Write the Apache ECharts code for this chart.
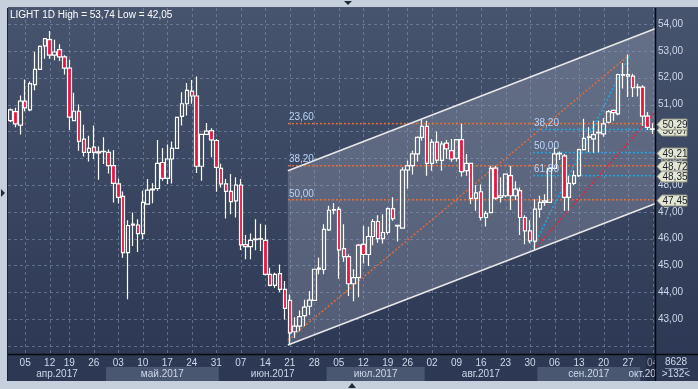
<!DOCTYPE html>
<html><head><meta charset="utf-8">
<script src="https://cdn.jsdelivr.net/npm/echarts@6/dist/echarts.min.js"></script>
<style>html,body{margin:0;padding:0;background:#c6d0dc}#c{width:698px;height:389px}</style>
</head><body><div id="c"></div>
<script>
const dates = ['03-31',
'04-03','04-04','04-05','04-06','04-07','04-10','04-11','04-12','04-13','04-17','04-18','04-19','04-20','04-21','04-24','04-25','04-26','04-27','04-28',
'05-01','05-02','05-03','05-04','05-05','05-08','05-09','05-10','05-11','05-12','05-15','05-16','05-17','05-18','05-19','05-22','05-23','05-24','05-25','05-26','05-29','05-30','05-31',
'06-01','06-02','06-05','06-06','06-07','06-08','06-09','06-12','06-13','06-14','06-15','06-16','06-19','06-20','06-21','06-22','06-23','06-26','06-27','06-28','06-29','06-30',
'07-03','07-04','07-05','07-06','07-07','07-10','07-11','07-12','07-13','07-14','07-17','07-18','07-19','07-20','07-24','07-25','07-26','07-27','07-28','07-31',
'08-01','08-02','08-03','08-04','08-07','08-08','08-09','08-10','08-11','08-14','08-15','08-16','08-17','08-18','08-21','08-22','08-23','08-24','08-25','08-28','08-29','08-30','08-31',
'09-01','09-04','09-05','09-06','09-07','09-08','09-11','09-12','09-13','09-14','09-15','09-18','09-19','09-20','09-21','09-22','09-25','09-26','09-27','09-28','09-29',
'10-02','10-03','10-04'];
const opens = [50.40,50.74,50.23,51.13,50.80,51.74,52.31,53.19,53.42,52.84,53.05,52.78,52.36,50.40,50.75,49.71,49.22,49.41,49.20,49.24,
49.22,48.72,48.04,47.58,45.48,46.50,46.51,46.19,47.29,47.82,47.87,48.84,48.25,48.97,49.37,50.56,51.03,51.50,51.32,48.70,
49.89,50.03,49.66,48.62,48.04,47.76,47.41,48.00,45.78,45.70,45.96,45.98,45.94,44.67,44.26,44.70,44.11,43.70,42.53,42.74,
43.13,43.48,43.70,44.86,44.85,46.33,47.06,47.09,45.63,45.33,44.32,44.55,45.79,45.41,46.08,46.64,46.00,46.23,47.12,46.50,
46.39,48.56,48.72,49.16,49.78,50.19,48.81,49.60,48.92,49.56,49.28,48.99,49.69,48.54,48.81,47.50,47.75,46.79,46.97,48.63,
47.54,47.60,48.35,47.60,47.79,46.79,46.29,45.91,47.10,47.35,47.35,48.62,49.16,49.09,47.54,48.06,48.35,49.32,49.78,49.72,
49.94,49.91,50.34,50.78,50.65,52.10,52.06,52.06,51.63,51.65,50.57,50.09];
const closes = [50.80,50.28,51.13,50.88,51.78,52.31,53.17,53.46,52.84,52.96,52.78,52.36,50.53,50.75,49.63,49.22,49.37,49.22,49.24,49.26,
48.72,48.06,47.54,45.48,46.49,46.54,46.19,47.35,47.81,47.85,48.81,48.25,48.97,49.37,50.52,51.03,51.53,51.32,48.70,49.89,
50.01,49.68,48.66,48.04,47.76,47.38,48.00,45.77,45.70,45.94,45.98,45.99,44.67,44.26,44.67,44.11,43.40,42.49,42.74,43.09,
43.45,43.71,44.86,44.90,46.35,47.06,47.08,45.58,45.33,44.32,44.55,45.76,45.41,46.08,46.64,46.00,46.23,47.12,46.75,46.48,
48.56,48.72,49.16,49.78,50.19,48.81,49.60,48.93,49.53,49.35,48.97,49.69,48.50,48.81,47.50,47.71,46.79,46.94,48.62,47.51,
47.60,48.41,47.60,47.85,46.79,46.29,45.92,47.10,47.35,47.41,48.62,49.16,49.18,47.54,48.06,48.35,49.32,49.74,49.80,49.88,
49.96,50.28,50.74,50.70,52.12,52.12,52.12,51.63,51.65,50.57,50.15,50.07];
const lows = [50.35,50.15,49.88,50.75,50.75,51.53,52.31,52.71,52.71,52.65,52.62,52.12,50.05,50.40,49.28,49.06,48.88,48.97,48.20,48.78,
48.43,47.35,47.31,45.29,43.74,45.73,45.50,45.98,47.29,47.32,47.79,48.16,48.04,48.06,49.37,50.22,50.59,51.03,48.45,48.16,
49.87,49.04,47.75,47.91,46.75,46.91,46.79,45.58,45.23,45.23,45.57,45.54,44.63,44.23,44.17,44.01,42.99,42.05,42.30,42.55,
42.74,43.15,43.70,44.67,44.67,46.29,46.91,44.51,45.14,43.86,43.67,43.82,45.07,44.98,45.75,45.85,45.82,46.16,46.67,45.89,
46.39,47.87,48.39,48.88,49.66,48.35,48.53,48.81,48.53,48.97,48.87,48.88,48.32,48.35,47.29,47.04,46.69,46.45,46.95,47.45,
47.35,47.54,47.07,47.44,46.14,45.79,45.83,45.60,46.79,47.23,47.33,48.60,48.93,47.04,47.04,48.00,48.30,49.30,49.22,49.20,
49.22,49.80,50.30,50.40,50.60,51.60,51.28,51.28,51.30,50.20,50.05,49.90];
const highs = [50.85,50.88,51.34,51.93,51.86,52.97,53.20,53.46,53.74,53.42,53.25,52.84,52.67,51.44,51.00,50.25,49.84,50.22,49.44,49.78,
49.32,49.31,48.23,47.76,46.69,46.98,46.72,47.79,48.22,48.07,49.68,49.38,49.51,49.62,50.55,51.46,51.80,51.92,52.05,49.89,
50.31,50.12,49.72,48.79,48.22,48.41,48.29,48.22,46.14,46.19,46.72,46.56,46.51,44.92,44.73,45.04,44.42,43.92,43.07,43.32,
43.72,44.05,44.86,45.29,46.54,47.23,47.33,47.19,46.54,45.42,44.86,45.80,46.48,46.44,46.73,46.87,46.91,47.16,47.54,46.52,
48.66,48.91,49.28,49.81,50.43,50.40,49.72,50.00,49.63,49.68,49.72,49.72,50.28,49.16,48.81,48.00,48.02,47.04,48.72,48.72,
48.29,48.41,48.72,48.14,47.91,46.87,46.69,47.47,47.60,47.66,48.66,49.41,49.25,49.16,48.35,48.54,49.35,50.47,50.15,50.40,
50.40,50.50,50.80,50.82,52.15,52.55,52.87,52.15,51.78,51.72,50.72,50.30];

const tickDates = ['04-05','04-12','04-19','04-26','05-03','05-10','05-17','05-24','05-31','06-07','06-14','06-21','06-28',
'07-05','07-12','07-19','07-26','08-02','08-09','08-16','08-23','08-30','09-06','09-13','09-20','09-27','10-04'];
const monthKeys = ['04','05','06','07','08','09','10'];
const monthNames = ['апр.2017','май.2017','июн.2017','июл.2017','авг.2017','сен.2017','окт.2017'];
const priceTicks = [42,43,44,45,46,47,48,49,50,51,52,53,54];

const fibOrangeLevels = [50.29, 48.72, 47.45];
const fibOrangeNames = ['23,60','38,20','50,00'];
const fibBlueLevels = [50.07, 49.21, 48.35];
const fibBlueNames = ['38,20','50,00','61,80'];
const tagPrices = [50.07, 50.29, 49.21, 48.72, 48.35, 47.45];
const fibOrangeStart = 56.6, fibBlueStart = 106.6, lineEnd = 131.5;
const channelX = [56.6, 131.5];
const channelUpper = [48.53, 53.83];
const channelLower = [42.04, 47.30];
const orangeDiag = [[56.6, 42.22], [126.4, 52.87]];
const blueDiag = [[106.6, 45.68], [126.4, 52.87]];
const redDiag = [[107.3, 45.70], [131.5, 50.72]];
const titleText = 'LIGHT 1D High = 53,74 Low = 42,05';
const footer = ['8628', '>132<'];

const FONT = 'Liberation Sans';
const LBL = '#cdd7ea';
const GRIDC = 'rgba(140,158,190,0.5)';
const fmt = v => v.toFixed(2).replace('.', ',');

const chart = echarts.init(document.getElementById('c'));

function dotted(data, color, z, w, dash) {
  return { type: 'line', xAxisIndex: 1, yAxisIndex: 0, data: data, symbol: 'none', silent: true, z: z,
    lineStyle: { color: color, width: w || 1.5, type: dash || [2, 2] }, animation: false };
}

const series = [];
series.push({ type: 'custom', xAxisIndex: 1, yAxisIndex: 0, z: 1, silent: true,
  data: [[channelX[0], channelUpper[0]]],
  renderItem: (p, api) => ({ type: 'polygon', shape: { points: [
      api.coord([channelX[0], channelUpper[0]]), api.coord([channelX[1], channelUpper[1]]),
      api.coord([channelX[1], channelLower[1]]), api.coord([channelX[0], channelLower[0]])] },
    style: { fill: 'rgba(190,198,214,0.26)' } })
});
series.push({ type: 'custom', xAxisIndex: 0, yAxisIndex: 0, z: 2, silent: true,
  data: tickDates.map(d => [dates.indexOf(d)]),
  renderItem: (p, api) => { const x = Math.round(api.coord([api.value(0), 48])[0]) + 0.5;
    const cs = p.coordSys;
    return { type: 'line', shape: { x1: x, y1: cs.y, x2: x, y2: cs.y + cs.height },
      style: { stroke: GRIDC, lineWidth: 1, lineDash: [3, 3] } }; }
});
series.push({ type: 'custom', xAxisIndex: 1, yAxisIndex: 0, z: 2, silent: true,
  data: priceTicks.map(v => [0, v]),
  renderItem: (p, api) => { const y = Math.round(api.coord([0, api.value(1)])[1]) + 0.5;
    const cs = p.coordSys;
    return { type: 'line', shape: { x1: cs.x, y1: y, x2: cs.x + cs.width, y2: y },
      style: { stroke: GRIDC, lineWidth: 1, lineDash: [3, 3] } }; }
});
fibOrangeLevels.forEach(v => series.push(dotted([[fibOrangeStart, v], [lineEnd, v]], '#f26c30', 3)));
fibBlueLevels.forEach(v => series.push(dotted([[fibBlueStart, v], [lineEnd, v]], '#1ea8ea', 3)));
series.push(dotted(orangeDiag, '#e2683a', 3));
series.push(dotted(blueDiag, '#1ea8ea', 3));
series.push(dotted(redDiag, '#e8203f', 3));
series.push(dotted([[channelX[0], channelUpper[0]], [channelX[1], channelUpper[1]]], '#e8e8e8', 4, 1.6, 'solid'));
series.push(dotted([[channelX[0], channelLower[0]], [channelX[1], channelLower[1]]], '#e8e8e8', 4, 1.6, 'solid'));
series.push({ type: 'candlestick', xAxisIndex: 0, yAxisIndex: 0, z: 5, barWidth: 4, silent: true,
  data: opens.map((o, i) => [o, closes[i], lows[i], highs[i]]),
  itemStyle: { color: 'rgba(0,0,0,0)', color0: '#ea1540', borderColor: '#ffffff', borderColor0: '#ffffff', borderWidth: 1.2 }
});
const fibLabelData = fibOrangeLevels.map((v, i) => [fibOrangeStart, v, fibOrangeNames[i]])
  .concat(fibBlueLevels.map((v, i) => [fibBlueStart, v, fibBlueNames[i]]));
series.push({ type: 'custom', xAxisIndex: 1, yAxisIndex: 0, z: 6, silent: true,
  data: fibLabelData.map(d => [d[0], d[1]]),
  renderItem: (p, api) => { const pt = api.coord([api.value(0), api.value(1)]);
    return { type: 'text', x: pt[0] + 1, y: pt[1] - 1,
      style: { text: fibLabelData[p.dataIndex][2], fill: '#b9d4fa', font: '10px ' + FONT,
        textAlign: 'left', textVerticalAlign: 'bottom' } }; }
});
series.push({ type: 'custom', xAxisIndex: 1, yAxisIndex: 0, z: 20, silent: true, clip: false,
  data: tagPrices.map(v => [lineEnd, v]),
  renderItem: (p, api) => { const pt = api.coord([api.value(0), api.value(1)]);
    const x = pt[0] + 2, y = Math.round(pt[1]) + 0.5;
    return { type: 'group', children: [
      { type: 'polygon', shape: { points: [[x, y], [x + 5, y - 5.5], [x + 30, y - 5.5], [x + 30, y + 5.5], [x + 5, y + 5.5]] },
        style: { fill: '#e4e6d4', stroke: '#8e9282', lineWidth: 1 } },
      { type: 'text', x: x + 18, y: y + 0.5, style: { text: fmt(api.value(1)), fill: '#1b1f28',
        font: '10px ' + FONT, textAlign: 'center', textVerticalAlign: 'middle' } }
    ] }; }
});

chart.setOption({
  animation: false,
  backgroundColor: '#c6d0dc',
  grid: { left: 8, right: 43, top: 8, bottom: 35, containLabel: false },
  xAxis: [
    { type: 'category', data: dates, boundaryGap: true, axisLine: { show: false }, axisTick: { show: false },
      splitLine: { show: false },
      axisLabel: { interval: (i, v) => tickDates.indexOf(v) >= 0, formatter: v => v.slice(3),
        color: LBL, fontSize: 10, fontFamily: FONT, margin: 4 } },
    { type: 'value', min: -0.5, max: dates.length - 0.5, show: false }
  ],
  yAxis: { type: 'value', position: 'right', min: 41.7, max: 54.6, splitNumber: 13, scale: true,
    axisLine: { show: false }, axisTick: { show: false }, splitLine: { show: false },
    axisLabel: { color: LBL, fontSize: 10, fontFamily: FONT, margin: 3, align: 'left',
      formatter: v => (Math.abs(v - Math.round(v)) < 1e-6 && v >= 42.5 && v <= 54.2) ? fmt(v) : '' } },
  series: series
});

const px = v => chart.convertToPixel({ xAxisIndex: 1 }, v);
const gridR = px(dates.length - 0.5);
const g = [];
g.push({ type: 'rect', z: -10, shape: { x: 8, y: 8, width: 690, height: 373 },
  style: { fill: new echarts.graphic.LinearGradient(0, 0, 0, 1, [{ offset: 0, color: '#47546e' }, { offset: 0.9, color: '#2e3a55' }, { offset: 1, color: '#2d3954' }]) } });
monthKeys.forEach((m, k) => {
  let a = -1, b = -1;
  dates.forEach((d, i) => { if (d.slice(0, 2) === m) { if (a < 0) a = i; b = i; } });
  if (k === 0) a = 0;
  const x0 = px(a - 0.5), x1 = px(b + 0.5);
  if (k % 2 === 1) g.push({ type: 'rect', z: 1, shape: { x: x0, y: 367, width: x1 - x0, height: 14 }, style: { fill: '#4a5771' } });
  g.push({ type: 'text', z: 3, x: (x0 + x1) / 2, y: 374, style: { text: monthNames[k], fill: LBL, font: '10px ' + FONT, textAlign: 'center', textVerticalAlign: 'middle' } });
});
const lastBox = px(dates.length - 2.4);
g.push({ type: 'rect', z: 2, shape: { x: lastBox, y: 356, width: gridR - lastBox, height: 25 }, style: { fill: 'rgba(20,30,48,0.35)' } });
g.push({ type: 'rect', z: 4, shape: { x: gridR + 1, y: 355, width: 698 - gridR, height: 26 }, style: { fill: '#2d3954' } });
g.push({ type: 'text', z: 5, x: 676, y: 362, style: { text: footer[0], fill: LBL, font: '10px ' + FONT, textAlign: 'center', textVerticalAlign: 'middle' } });
g.push({ type: 'line', z: 5, shape: { x1: 665, y1: 368.5, x2: 688, y2: 368.5 }, style: { stroke: '#7d8aa3', lineWidth: 1 } });
g.push({ type: 'text', z: 5, x: 676, y: 374, style: { text: footer[1], fill: LBL, font: '10px ' + FONT, textAlign: 'center', textVerticalAlign: 'middle' } });
g.push({ type: 'line', z: 50, shape: { x1: 8, y1: 354.5, x2: 698, y2: 354.5 }, style: { stroke: '#05080e', lineWidth: 1.5 } });
g.push({ type: 'line', z: 50, shape: { x1: gridR + 0.5, y1: 8, x2: gridR + 0.5, y2: 381 }, style: { stroke: '#05080e', lineWidth: 1.5 } });
g.push({ type: 'line', z: 50, shape: { x1: 7.5, y1: 8, x2: 7.5, y2: 381 }, style: { stroke: '#1a2233', lineWidth: 1 } });
g.push({ type: 'line', z: 50, shape: { x1: 8, y1: 7.5, x2: 698, y2: 7.5 }, style: { stroke: '#4a5670', lineWidth: 1 } });
g.push({ type: 'polygon', z: 50, shape: { points: [[344, 1], [352, 1], [348, 5]] }, style: { fill: '#1e2a3e' } });
g.push({ type: 'polygon', z: 50, shape: { points: [[1, 189], [1, 197], [5, 193]] }, style: { fill: '#1e2a3e' } });
g.push({ type: 'polygon', z: 50, shape: { points: [[348, 388], [356, 388], [352, 383]] }, style: { fill: '#1e2a3e' } });
g.push({ type: 'text', z: 50, x: 10, y: 15, style: { text: titleText, fill: '#ffffff', font: '10px ' + FONT, textVerticalAlign: 'middle' } });
chart.setOption({ graphic: { elements: g } });
</script></body></html>
